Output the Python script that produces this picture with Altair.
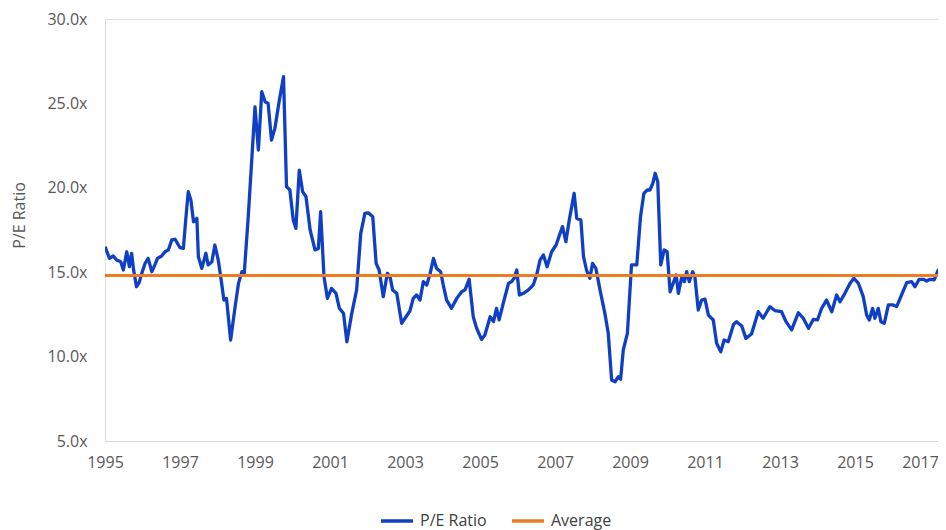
import altair as alt
import pandas as pd

# Monthly-ish vertices (decimal year, P/E multiple)
years = [
    1995.00, 1995.12, 1995.22, 1995.31, 1995.42, 1995.49, 1995.58, 1995.65, 1995.71, 1995.76,
    1995.84, 1995.91, 1995.98, 1996.07, 1996.15, 1996.25, 1996.33, 1996.40, 1996.51, 1996.60,
    1996.69, 1996.78, 1996.87, 1997.00, 1997.09, 1997.16, 1997.22, 1997.29, 1997.36, 1997.45,
    1997.49, 1997.58, 1997.69, 1997.75, 1997.85, 1997.93, 1998.02, 1998.11, 1998.17, 1998.24,
    1998.35, 1998.47, 1998.56, 1998.65, 1998.71, 1998.82, 1999.00, 1999.09, 1999.18, 1999.27,
    1999.35, 1999.44, 1999.53, 1999.65, 1999.76, 1999.84, 1999.93, 2000.02, 2000.09, 2000.18,
    2000.27, 2000.36, 2000.47, 2000.60, 2000.69, 2000.75, 2000.84, 2000.93, 2001.04, 2001.16,
    2001.25, 2001.36, 2001.45, 2001.58, 2001.71, 2001.82, 2001.93, 2002.02, 2002.14, 2002.23,
    2002.31, 2002.42, 2002.53, 2002.60, 2002.67, 2002.78, 2002.91, 2003.00, 2003.13, 2003.22,
    2003.31, 2003.40, 2003.49, 2003.58, 2003.67, 2003.76, 2003.84, 2003.95, 2004.02, 2004.11,
    2004.24, 2004.38, 2004.51, 2004.60, 2004.71, 2004.82, 2004.91, 2005.04, 2005.13, 2005.27,
    2005.36, 2005.44, 2005.51, 2005.62, 2005.76, 2005.84, 2005.91, 2005.98, 2006.05, 2006.16,
    2006.29, 2006.42, 2006.51, 2006.60, 2006.69, 2006.79, 2006.91, 2007.03, 2007.12, 2007.20,
    2007.29, 2007.38, 2007.51, 2007.58, 2007.69, 2007.76, 2007.84, 2007.93, 2008.00, 2008.09,
    2008.20, 2008.33, 2008.42, 2008.51, 2008.60, 2008.69, 2008.75, 2008.82, 2008.93, 2009.04,
    2009.18, 2009.28, 2009.37, 2009.46, 2009.53, 2009.61, 2009.67, 2009.74, 2009.82, 2009.91,
    2009.99, 2010.07, 2010.15, 2010.23, 2010.29, 2010.38, 2010.45, 2010.51, 2010.58, 2010.67,
    2010.73, 2010.82, 2010.91, 2011.00, 2011.09, 2011.22, 2011.31, 2011.42, 2011.51, 2011.62,
    2011.76, 2011.84, 2011.98, 2012.09, 2012.24, 2012.42, 2012.55, 2012.73, 2012.87, 2013.04,
    2013.16, 2013.31, 2013.49, 2013.62, 2013.76, 2013.89, 2014.00, 2014.11, 2014.24, 2014.38,
    2014.51, 2014.60, 2014.73, 2014.87, 2014.97, 2015.09, 2015.22, 2015.31, 2015.38, 2015.47,
    2015.53, 2015.62, 2015.69, 2015.78, 2015.89, 2016.02, 2016.11, 2016.24, 2016.38, 2016.51,
    2016.60, 2016.71, 2016.82, 2016.91, 2017.00, 2017.11, 2017.22, 2017.36, 2017.43,
]
pe_ratio = [
    16.51, 15.82, 15.96, 15.72, 15.62, 15.13, 16.21, 15.33, 16.12, 15.17,
    14.14, 14.38, 14.93, 15.53, 15.82, 15.03, 15.43, 15.82, 15.96, 16.21,
    16.32, 16.91, 16.95, 16.45, 16.41, 18.29, 19.77, 19.28, 17.99, 18.19,
    15.92, 15.23, 16.12, 15.43, 15.62, 16.61, 15.72, 14.34, 13.35, 13.45,
    10.98, 12.96, 14.34, 15.03, 14.83, 18.29, 24.80, 22.24, 25.69, 25.10,
    25.00, 22.83, 23.52, 25.20, 26.58, 20.07, 19.87, 18.09, 17.60, 21.05,
    19.77, 19.47, 17.50, 16.32, 16.41, 18.58, 14.73, 13.45, 14.04, 13.75,
    12.86, 12.56, 10.88, 12.56, 13.95, 17.30, 18.48, 18.52, 18.29, 15.52,
    15.13, 13.55, 14.93, 14.73, 13.95, 13.75, 11.97, 12.27, 12.70, 13.45,
    13.65, 13.35, 14.44, 14.24, 14.93, 15.82, 15.23, 15.03, 14.24, 13.35,
    12.86, 13.45, 13.84, 13.95, 14.58, 12.36, 11.68, 11.02, 11.28, 12.36,
    12.07, 12.86, 12.17, 13.16, 14.34, 14.44, 14.64, 15.13, 13.65, 13.75,
    13.95, 14.24, 14.83, 15.72, 16.02, 15.33, 16.21, 16.61, 17.20, 17.70,
    16.81, 18.09, 19.67, 18.19, 18.09, 15.92, 15.13, 14.64, 15.52, 15.23,
    13.95, 12.56, 11.38, 8.61, 8.51, 8.81, 8.66, 10.39, 11.38, 15.43,
    15.43, 18.29, 19.67, 19.87, 19.87, 20.27, 20.86, 20.36, 15.43, 16.32,
    16.21, 13.84, 14.34, 14.83, 13.75, 14.73, 14.44, 15.03, 14.44, 15.03,
    14.73, 12.76, 13.35, 13.40, 12.46, 12.17, 10.79, 10.29, 10.98, 10.88,
    11.90, 12.07, 11.81, 11.08, 11.34, 12.66, 12.27, 12.96, 12.72, 12.66,
    12.07, 11.58, 12.60, 12.27, 11.68, 12.21, 12.17, 12.86, 13.35, 12.66,
    13.65, 13.25, 13.75, 14.34, 14.64, 14.34, 13.55, 12.46, 12.17, 12.86,
    12.27, 12.86, 12.07, 11.97, 13.06, 13.06, 12.96, 13.65, 14.38, 14.44,
    14.14, 14.58, 14.58, 14.48, 14.58, 14.54, 15.13, 15.17, 15.33,
]
average_value = 14.8
series_names = ["P/E Ratio", "Average"]
series_colors = ["#0F3FC4", "#EE7D22"]
x_ticks = [1995, 1997, 1999, 2001, 2003, 2005, 2007, 2009, 2011, 2013, 2015, 2017]
y_ticks = [5, 10, 15, 20, 25, 30]

pe_df = pd.DataFrame({"year": years, "value": pe_ratio, "series": series_names[0]})
avg_df = pd.DataFrame({"year": [years[0], years[-1]],
                       "value": [average_value, average_value],
                       "series": series_names[1]})

FONT = "Open Sans"
LABEL_COLOR = "#595959"

x_enc = alt.X(
    "year:Q",
    scale=alt.Scale(domain=[1995, 2017.213], nice=False, zero=False),
    axis=alt.Axis(
        values=x_ticks, labelExpr="format(datum.value, 'd')", title=None,
        grid=False, ticks=False, domain=True, domainColor="#D9D9D9", domainWidth=1.2,
        labelFont=FONT, labelFontSize=16, labelColor=LABEL_COLOR, labelPadding=13,
        labelFlush=False, labelOverlap=False,
        labelOffset={"condition": {"test": "datum.value == 2017", "value": -10}, "value": 0},
    ),
)
y_enc = alt.Y(
    "value:Q",
    scale=alt.Scale(domain=[5, 30], nice=False, zero=False),
    axis=alt.Axis(
        values=y_ticks, labelExpr="format(datum.value, '.1f') + 'x'",
        title="P/E Ratio", titleFont=FONT, titleFontSize=16, titleFontWeight="normal",
        titleColor=LABEL_COLOR, titleAngle=270, titleX=-81, titleY=196,
        titleAlign="center", titleBaseline="alphabetic",
        grid=False, ticks=False, domain=False,
        labelFont=FONT, labelFontSize=16, labelColor=LABEL_COLOR, labelPadding=18,
    ),
)
color_enc = alt.Color(
    "series:N",
    scale=alt.Scale(domain=series_names, range=series_colors),
    legend=alt.Legend(
        title=None, orient="none", direction="horizontal", legendX=274, legendY=484,
        symbolType="stroke", symbolSize=1024, symbolStrokeWidth=3.5,
        labelFont=FONT, labelFontSize=16, labelColor="#404040", labelOffset=5,
        columnPadding=18,
    ),
)

pe_line = alt.Chart(pe_df).mark_line(strokeWidth=3.3, strokeJoin="round", clip=True).encode(
    x=x_enc, y=y_enc, color=color_enc
)
avg_line = alt.Chart(avg_df).mark_line(strokeWidth=3, clip=True).encode(
    x=x_enc, y=y_enc, color=color_enc
)

chart = (
    alt.layer(pe_line, avg_line)
    .properties(
        width=833, height=422,
        autosize=alt.AutoSizeParams(type="none"),
        padding={"left": 97, "top": 11, "right": 0, "bottom": 90},
    )
    .configure_view(stroke=None)
    .configure(background="white")
)

chart.save("out.html", embed_options={"renderer": "svg", "actions": False})
